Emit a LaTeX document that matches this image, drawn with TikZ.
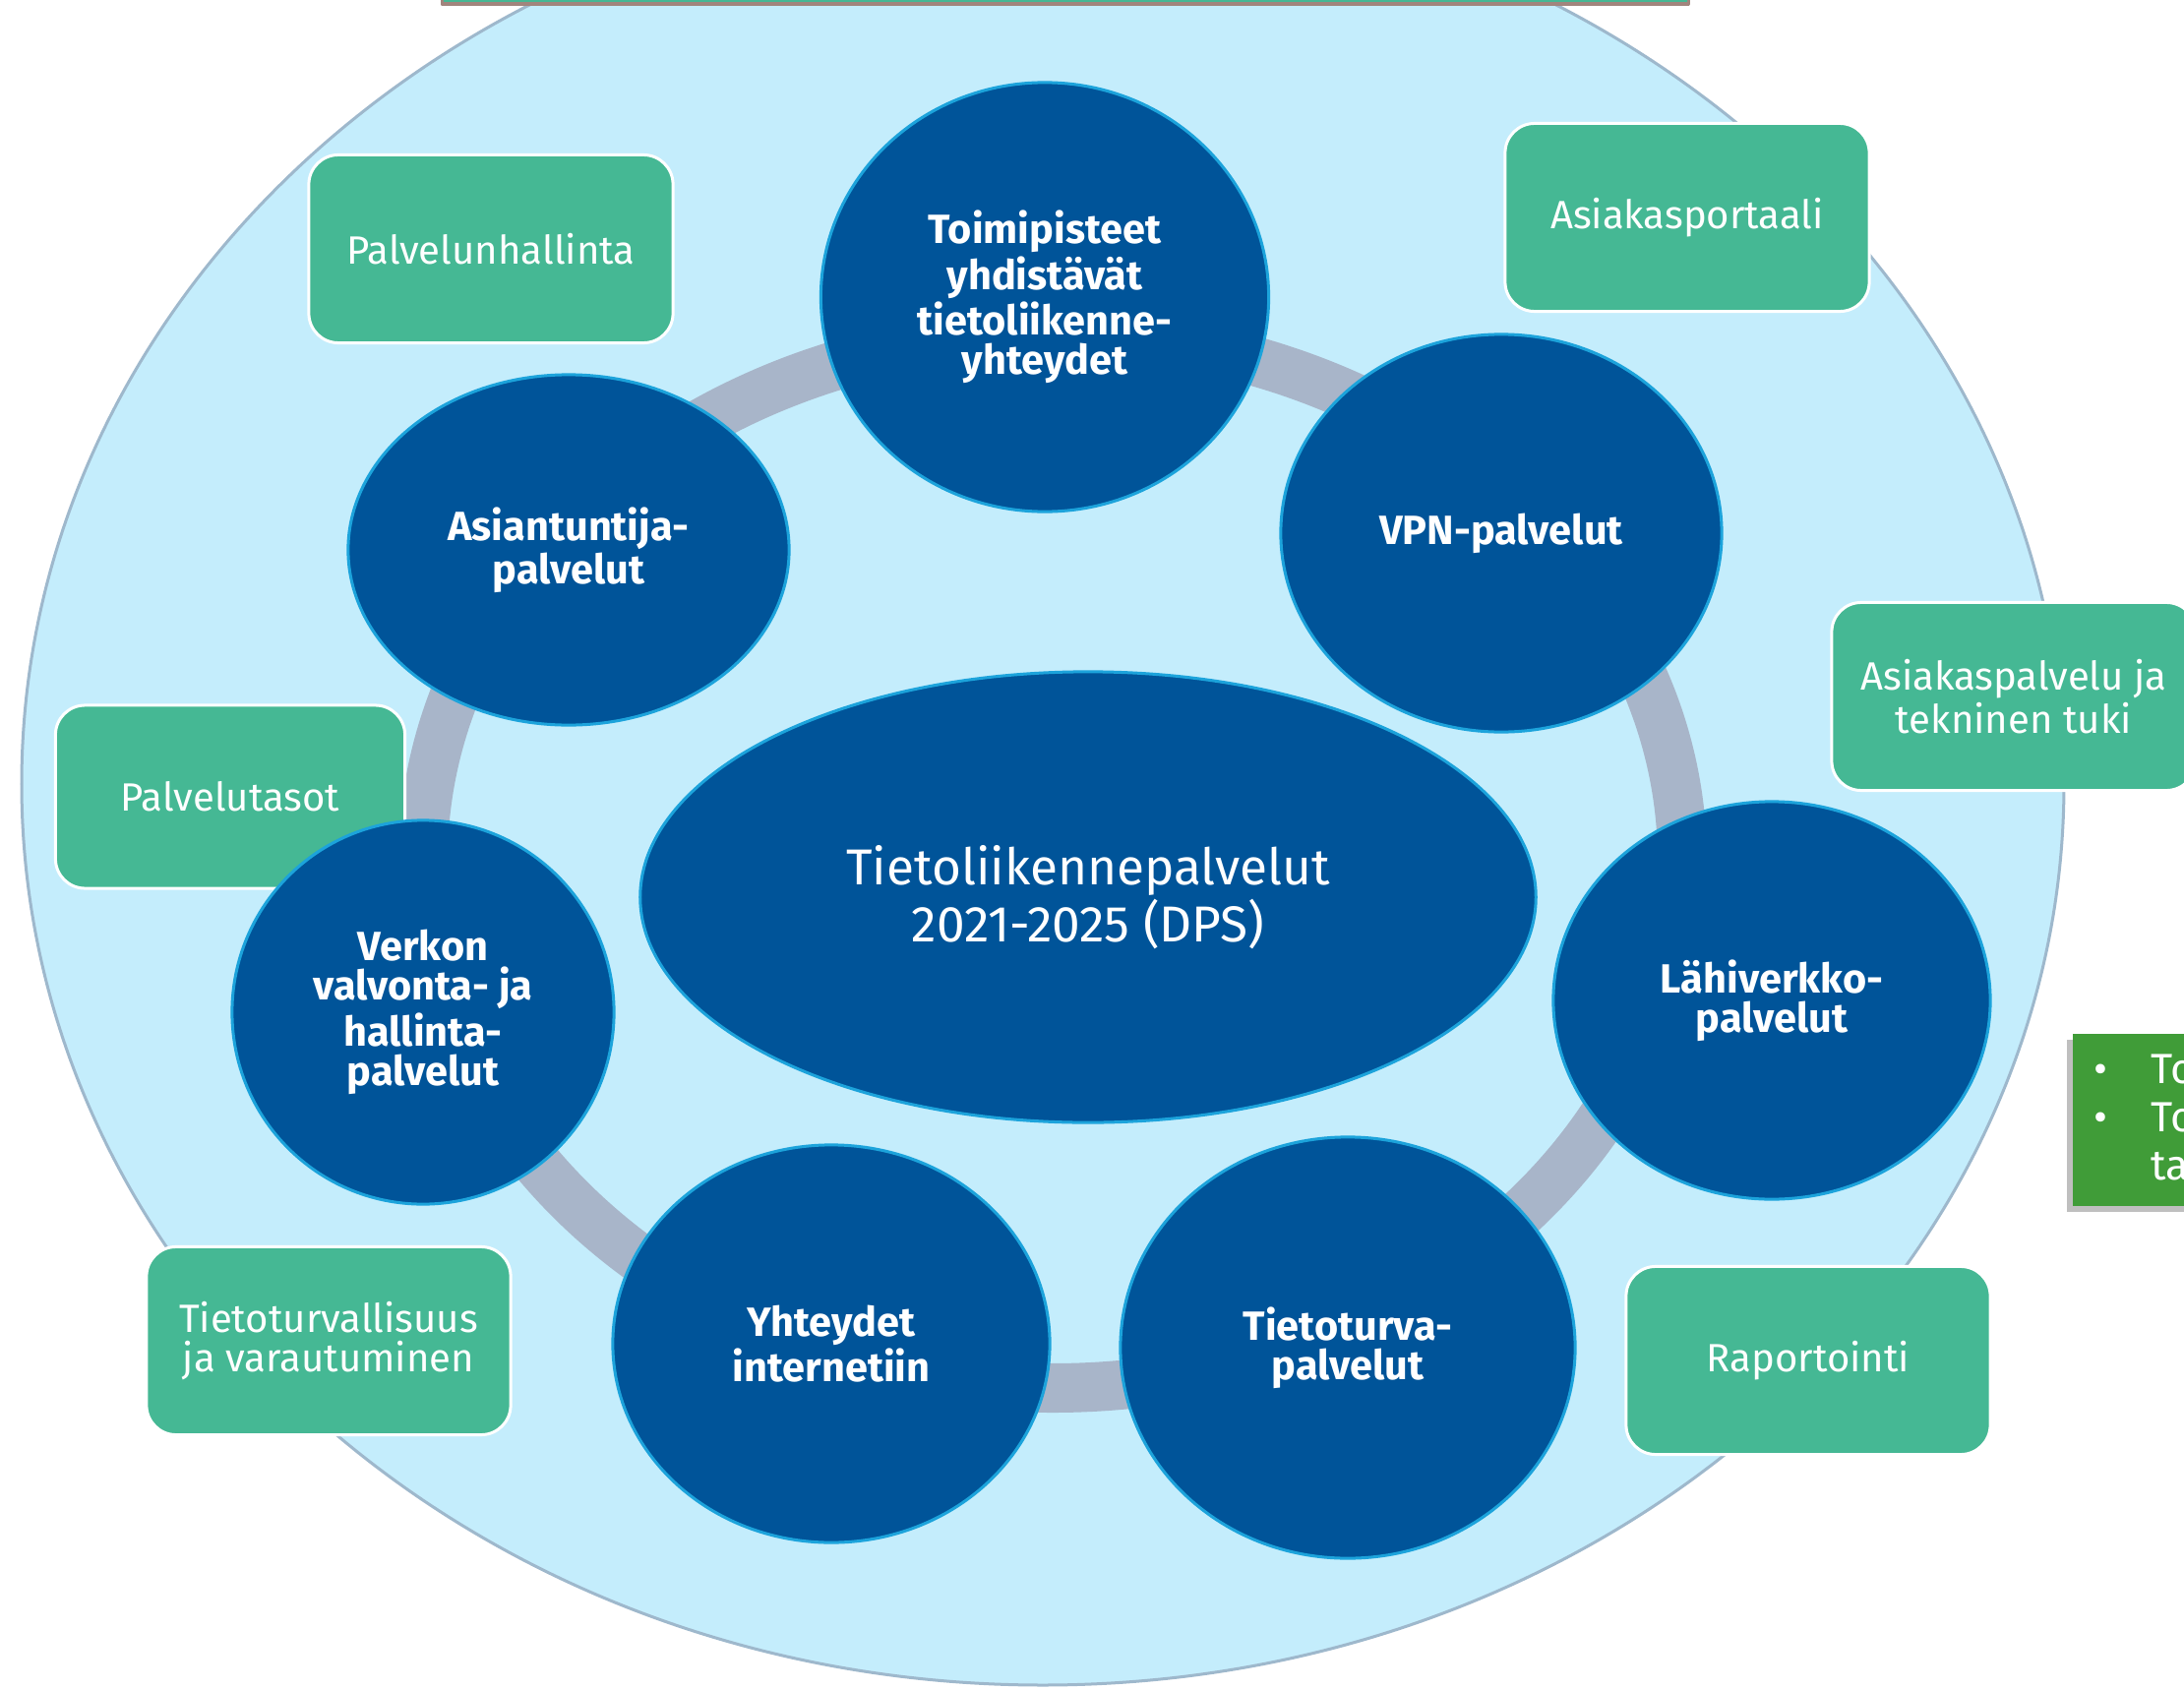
\documentclass[tikz,border=0pt]{standalone}
\usepackage{fontspec}
\setmainfont{Fira Sans}
\usetikzlibrary{shapes.geometric}
\definecolor{qqwwcc}{rgb}{0,0.33,0.6}
\definecolor{zzccff}{rgb}{0.11,0.64,0.86}
\definecolor{ddeeff}{rgb}{0.77,0.93,0.99}
\definecolor{ccccdd}{rgb}{0.66,0.71,0.79}
\definecolor{wwcccc}{rgb}{0.27,0.72,0.58}
\definecolor{wwccqq}{rgb}{0.25,0.61,0.22}
\definecolor{ccwwww}{rgb}{0.63,0.52,0.49}
\definecolor{ccddee}{rgb}{0.62,0.72,0.8}
\tikzset{
  svc/.style={ellipse,draw=zzccff,line width=0.03cm,fill=qqwwcc,text=white,inner sep=0pt,align=center,font=\bfseries\fontsize{11.8}{11.4}\selectfont},
  lbl/.style={rectangle,draw=white,line width=0.03cm,fill=wwcccc,rounded corners=0.3cm,text=white,inner sep=0pt,align=center,minimum width=3.7cm,minimum height=1.91cm,font=\fontsize{11.4}{11.3}\selectfont}
}
\begin{document}
\begin{tikzpicture}[line cap=round,line join=round,x=0.01cm,y=-0.01cm]
\useasboundingbox (0,0) rectangle (2220,1718);
\clip (0,0) rectangle (2220,1718);
\draw [line width=0.03cm,color=ccddee,fill=ddeeff] (1060,797) ellipse (1038 and 916);
\draw [line width=0.5cm,color=ccccdd] (1070,875) ellipse (640 and 536);
\draw [line width=0.03cm,draw=ccwwww,fill=wwcccc] (449,-20) rectangle (1716,4);
\node[lbl] (hallinta) at (499,253) {Palvelunhallinta};
\node[lbl] (portaali) at (1715,221) {Asiakasportaali};
\node[lbl] (tuki) at (2047,708) {Asiakaspalvelu ja\\tekninen tuki};
\node[lbl,minimum width=3.55cm,minimum height=1.86cm] (tasot) at (234,810) {Palvelutasot};
\node[lbl] (varautuminen) at (334,1363) {Tietoturvallisuus\\ja varautuminen};
\node[lbl] (raportointi) at (1838,1383) {Raportointi};
\fill [black,opacity=0.25] (2101,1057) rectangle (2300,1232);
\fill [wwccqq] (2107,1051) rectangle (2300,1226);
\node[anchor=north west,text=white,inner sep=0pt,font=\fontsize{12.2}{14}\selectfont] (muut) at (2128,1066) {\begin{tabular}{@{}l@{\hspace{0.44cm}}l@{}}\textbullet&To\\\textbullet&To\\&ta\end{tabular}};
\node[svc,minimum width=4.55cm,minimum height=4.36cm] (toimi) at (1062,302) {Toimipisteet\\yhdistävät\\tietoliikenne-\\yhteydet};
\node[svc,minimum width=4.48cm,minimum height=4.04cm] (vpn) at (1526,542) {VPN-palvelut};
\node[svc,minimum width=4.44cm,minimum height=4.04cm] (lahi) at (1801,1017) {Lähiverkko-\\palvelut};
\node[svc,minimum width=4.62cm,minimum height=4.28cm] (turva) at (1370,1370) {Tietoturva-\\palvelut};
\node[svc,minimum width=4.44cm,minimum height=4.04cm] (netti) at (845,1366) {Yhteydet\\internetiin};
\node[svc,minimum width=3.88cm,minimum height=3.9cm] (valvonta) at (430,1029) {Verkon\\valvonta- ja\\hallinta-\\palvelut};
\node[svc,minimum width=4.48cm,minimum height=3.56cm] (asiantuntija) at (578,559) {Asiantuntija-\\palvelut};
\node[svc,minimum width=9.1cm,minimum height=4.58cm,font=\fontsize{14.6}{15}\selectfont] (dps) at (1106,912) {Tietoliikennepalvelut\\2021-2025 (DPS)};
\end{tikzpicture}
\end{document}
